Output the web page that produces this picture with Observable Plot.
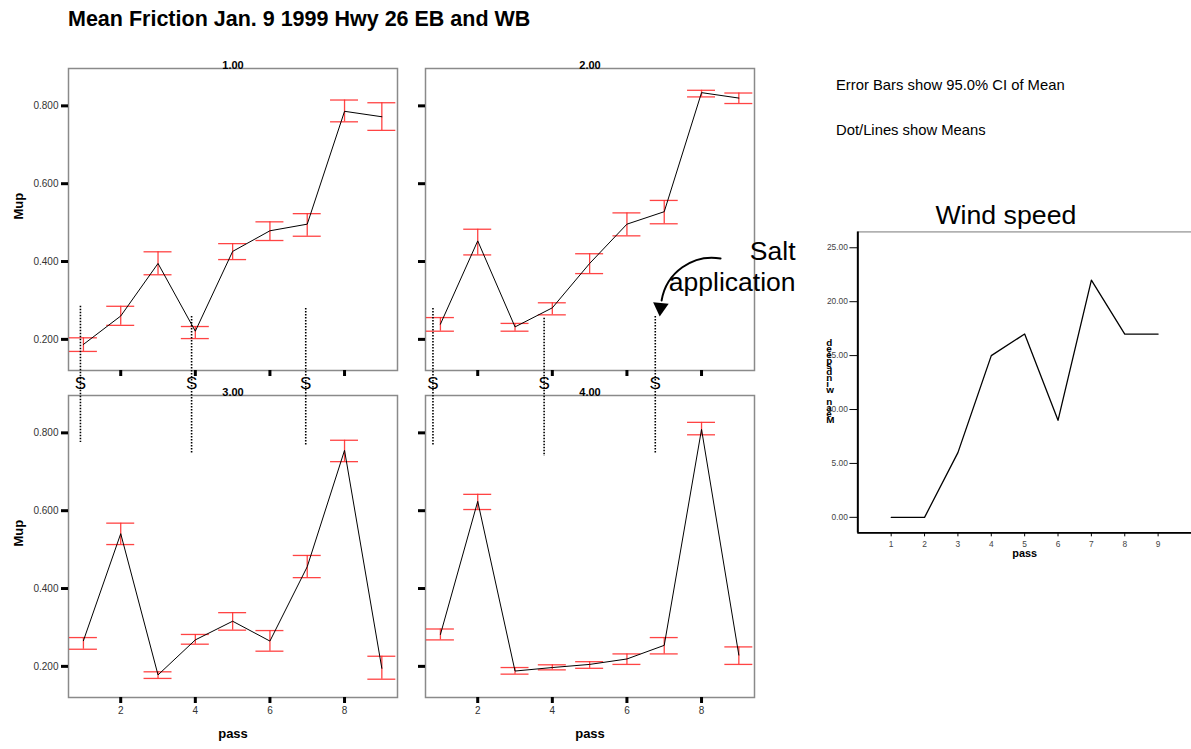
<!DOCTYPE html>
<html><head><meta charset="utf-8">
<script src="https://cdn.jsdelivr.net/npm/d3@7"></script>
<script src="https://cdn.jsdelivr.net/npm/@observablehq/plot@0.6"></script>
<style>
html,body{margin:0;padding:0;background:#fff;}
body{width:1191px;height:749px;overflow:hidden;position:relative;font-family:"Liberation Sans",Arial,sans-serif;}
.abs{position:absolute;}
#title{left:68px;top:7px;font-size:21.5px;font-weight:bold;color:#000;white-space:nowrap;}
.note{left:836px;font-size:14.8px;color:#000;white-space:nowrap;}
svg{overflow:visible;}
</style></head>
<body>
<div id="title" class="abs">Mean Friction Jan. 9 1999 Hwy 26 EB and WB</div>
<div class="abs note" style="top:77px">Error Bars show 95.0% CI of Mean</div>
<div class="abs note" style="top:122px">Dot/Lines show Means</div>
<script>
// ---------- data ----------
const passes = [1, 2, 3, 4, 5, 6, 7, 8, 9];
const panelNames = ["1.00", "2.00", "3.00", "4.00"];
const mean1 = [0.187, 0.260, 0.395, 0.221, 0.426, 0.479, 0.496, 0.786, 0.772];
const low1  = [0.169, 0.236, 0.366, 0.202, 0.405, 0.454, 0.465, 0.759, 0.737];
const high1 = [0.204, 0.285, 0.425, 0.233, 0.446, 0.502, 0.523, 0.815, 0.808];
const mean2 = [0.239, 0.453, 0.232, 0.281, 0.395, 0.496, 0.528, 0.834, 0.820];
const low2  = [0.221, 0.417, 0.221, 0.263, 0.369, 0.466, 0.497, 0.823, 0.806];
const high2 = [0.256, 0.483, 0.241, 0.294, 0.420, 0.525, 0.557, 0.840, 0.833];
const mean3 = [0.266, 0.541, 0.178, 0.268, 0.316, 0.265, 0.456, 0.755, 0.195];
const low3  = [0.244, 0.513, 0.169, 0.257, 0.293, 0.239, 0.428, 0.726, 0.167];
const high3 = [0.274, 0.568, 0.186, 0.282, 0.338, 0.292, 0.485, 0.781, 0.226];
const mean4 = [0.282, 0.624, 0.188, 0.197, 0.205, 0.219, 0.254, 0.809, 0.229];
const low4  = [0.268, 0.603, 0.180, 0.191, 0.195, 0.205, 0.232, 0.795, 0.205];
const high4 = [0.296, 0.642, 0.197, 0.204, 0.212, 0.232, 0.274, 0.827, 0.250];
const mupTicks = [0.2, 0.4, 0.6, 0.8];
const passTicks = [2, 4, 6, 8];
const windSpeed = [0, 0, 6, 15, 17, 9, 22, 17, 17];
const windTicks = [0, 5, 10, 15, 20, 25];
// salt application markers (pass position, top and bottom of dotted line in Mup units of the upper panel)
const saltPassLeft  = [0.92, 3.90, 6.96];
const saltTopLeft   = [0.285, 0.259, 0.279];
const saltBotLeft   = [-0.065, -0.093, -0.075];
const saltPassRight = [0.80, 3.78, 6.76];
const saltTopRight  = [0.279, 0.254, 0.259];
const saltBotRight  = [-0.075, -0.101, -0.093];
const saltLetterY = 0.087;
const saltNoteLines = ["Salt", "application"];
const saltNoteX = 10.52;
const saltNoteY = [0.425, 0.345];
const arrowFrom = {x: 8.51, y: 0.408};
const arrowTo = {x: 6.93, y: 0.300};
const arrowHead = {x: 6.90, y: 0.282};
const windAxisLabel = "Mean windspeed";

// ---------- layout ----------
const ML = 68, MT = 18, FW = 329, FH = 302, MB = 90, MR = 45;
const font = '"Liberation Sans", Arial, sans-serif';

function panel({mean, low, high, name, yLabels, xLabels, salt, note}) {
  const rows = passes.map((p, i) => ({pass: p, mean: mean[i], low: low[i], high: high[i]}));
  const marks = [
    Plot.frame({stroke: "#8a8a8a", strokeWidth: 1.5}),
    Plot.axisY(mupTicks, {tickSize: 7, strokeWidth: 3, stroke: "#000", fill: "#333", tickPadding: 3,
      fontSize: 10, tickFormat: yLabels ? d3.format(".3f") : () => "", label: null}),
    Plot.axisX(passTicks, {tickSize: 6, strokeWidth: 3, stroke: "#000", fill: "#333", tickPadding: 3,
      fontSize: 10, tickFormat: xLabels ? d3.format("d") : () => "", label: null}),
    Plot.ruleX(rows, {x: "pass", y1: "low", y2: "high", stroke: "#ff3030", strokeWidth: 1.3, strokeOpacity: 0.9}),
    Plot.ruleY(rows, {y: "low", x1: d => d.pass - 0.375, x2: d => d.pass + 0.375, stroke: "#ff3030", strokeWidth: 1.3, strokeOpacity: 0.9}),
    Plot.ruleY(rows, {y: "high", x1: d => d.pass - 0.375, x2: d => d.pass + 0.375, stroke: "#ff3030", strokeWidth: 1.3, strokeOpacity: 0.9}),
    Plot.line(rows, {x: "pass", y: "mean", stroke: "#000", strokeWidth: 1}),
    Plot.text([name], {frameAnchor: "top", dy: -7, fontWeight: "bold", fontSize: 11, fill: "#000"})
  ];
  if (yLabels) marks.push(Plot.text(["Mup"], {frameAnchor: "left", dx: -50, rotate: -90, fontWeight: "bold", fontSize: 13, fill: "#000"}));
  if (xLabels) marks.push(Plot.text(["pass"], {frameAnchor: "bottom", dy: 40, fontWeight: "bold", fontSize: 13, fill: "#000"}));
  if (salt) {
    const sRows = salt.pass.map((p, i) => ({pass: p, top: salt.top[i], bot: salt.bot[i]}));
    marks.push(Plot.text(sRows, {x: "pass", y: () => saltLetterY, text: () => "S", fontSize: 17, fill: "#000"}));
    marks.push(Plot.ruleX(sRows, {x: "pass", y1: "top", y2: "bot", stroke: "#000", strokeWidth: 1.6, strokeDasharray: "1.5,1.5"}));
  }
  if (note) {
    marks.push(Plot.text(saltNoteLines, {x: () => saltNoteX, y: (d, i) => saltNoteY[i], text: d => d, textAnchor: "end", fontSize: 26.5, fill: "#000"}));
    marks.push(Plot.arrow([0], {x1: () => arrowFrom.x, y1: () => arrowFrom.y, x2: () => arrowTo.x, y2: () => arrowTo.y, bend: -45, headLength: 0, stroke: "#000", strokeWidth: 2}));
    marks.push(Plot.dot([arrowHead], {x: "x", y: "y", symbol: "triangle", r: 5.8, fill: "#000", stroke: null, rotate: 185}));
  }
  return Plot.plot({
    width: ML + FW + MR, height: MT + FH + MB,
    marginLeft: ML, marginTop: MT, marginRight: MR, marginBottom: MB,
    x: {domain: [0.6, 9.42], label: null},
    y: {domain: [0.12, 0.896], label: null},
    style: {fontFamily: font, fontSize: "10px", background: "transparent", overflow: "visible"},
    marks
  });
}

function place(node, left, top) {
  const d = document.createElement("div");
  d.className = "abs";
  d.style.left = left + "px";
  d.style.top = top + "px";
  d.appendChild(node);
  document.body.appendChild(d);
}

// bottom panels first so the salt markers from the upper panels draw over them
place(panel({mean: mean3, low: low3, high: high3, name: panelNames[2], yLabels: true, xLabels: true}), 68 - ML, 395 - MT);
place(panel({mean: mean4, low: low4, high: high4, name: panelNames[3], yLabels: false, xLabels: true}), 425 - ML, 395 - MT);
place(panel({mean: mean1, low: low1, high: high1, name: panelNames[0], yLabels: true, xLabels: false,
  salt: {pass: saltPassLeft, top: saltTopLeft, bot: saltBotLeft}}), 68 - ML, 68 - MT);
place(panel({mean: mean2, low: low2, high: high2, name: panelNames[1], yLabels: false, xLabels: false,
  salt: {pass: saltPassRight, top: saltTopRight, bot: saltBotRight}, note: true}), 425 - ML, 68 - MT);

// wind speed chart
const windRows = passes.map((p, i) => ({pass: p, speed: windSpeed[i]}));
const WML = 60, WMT = 50, WFW = 337.5, WFH = 304.4, WMB = 40;
const yMin = -1.44, yMax = 26.47;
const stack = windAxisLabel.split("").reverse().join("\n");
const wind = Plot.plot({
  width: WML + WFW, height: WMT + WFH + WMB,
  marginLeft: WML, marginRight: 0, marginTop: WMT, marginBottom: WMB,
  x: {domain: [0, 10], label: null},
  y: {domain: [yMin, yMax], label: null},
  style: {fontFamily: font, fontSize: "8px", background: "transparent", overflow: "visible"},
  marks: [
    Plot.frame({stroke: "#777", strokeWidth: 1}),
    Plot.ruleX([0], {stroke: "#000", strokeWidth: 2}),
    Plot.ruleY([yMin], {stroke: "#000", strokeWidth: 2}),
    Plot.axisY(windTicks, {tickSize: 8, tickPadding: 2, fontSize: 8.5, fill: "#444", stroke: "#000", tickFormat: d3.format(".2f"), label: null}),
    Plot.axisX(passes, {tickSize: 4, tickPadding: 4, fontSize: 8.5, fill: "#444", stroke: "#000", tickFormat: d3.format("d"), label: null}),
    Plot.line(windRows, {x: "pass", y: "speed", stroke: "#000", strokeWidth: 1.3}),
    Plot.text(["Wind speed"], {frameAnchor: "top", dx: -19, dy: -27.6, fontSize: 27, fill: "#000"}),
    Plot.text(["pass"], {frameAnchor: "bottom", dy: 24, fontWeight: "bold", fontSize: 11, fill: "#000"}),
    Plot.text([stack], {frameAnchor: "left", dx: -32, lineHeight: 0.6, fontWeight: "bold", fontSize: 10, fill: "#000"})
  ]
});
place(wind, 858 - WML, 232.3 - WMT);
</script>
</body></html>
